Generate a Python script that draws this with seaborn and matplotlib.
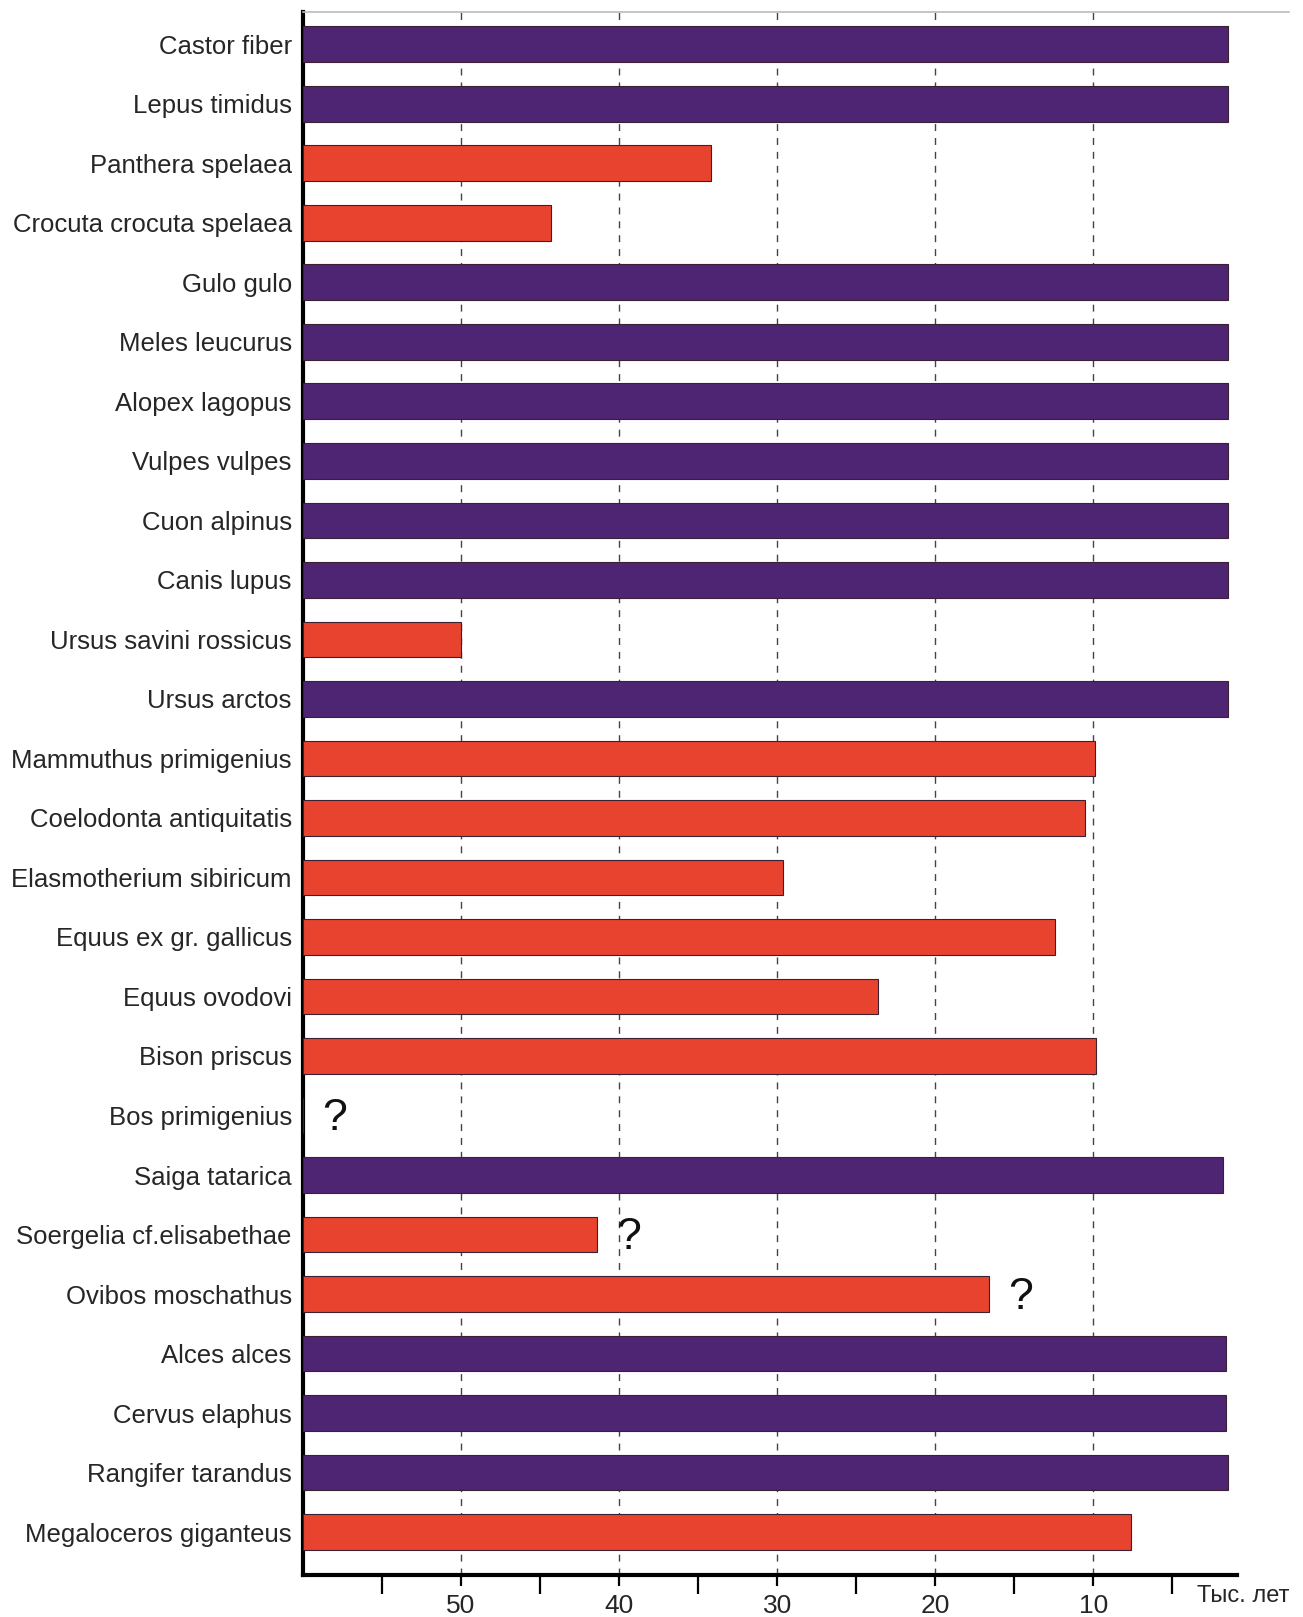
import numpy as np
import pandas as pd
import matplotlib
matplotlib.use("Agg")
import matplotlib.pyplot as plt
import seaborn as sns

# species, extinction / last-record time (thousand years ago) and status
species = [
    "Castor fiber", "Lepus timidus", "Panthera spelaea", "Crocuta crocuta spelaea",
    "Gulo gulo", "Meles leucurus", "Alopex lagopus", "Vulpes vulpes",
    "Cuon alpinus", "Canis lupus", "Ursus savini rossicus", "Ursus arctos",
    "Mammuthus primigenius", "Coelodonta antiquitatis", "Elasmotherium sibiricum",
    "Equus ex gr. gallicus", "Equus ovodovi", "Bison priscus", "Bos primigenius",
    "Saiga tatarica", "Soergelia cf.elisabethae", "Ovibos moschathus",
    "Alces alces", "Cervus elaphus", "Rangifer tarandus", "Megaloceros giganteus",
]
end_kyr = [
    1.5, 1.5, 34.2, 44.3,
    1.5, 1.5, 1.5, 1.5,
    1.5, 1.5, 50.0, 1.5,
    9.9, 10.5, 29.6,
    12.4, 23.6, 9.8, 60.0,
    1.8, 41.4, 16.6,
    1.6, 1.6, 1.5, 7.6,
]
status = [
    "extant", "extant", "extinct", "extinct",
    "extant", "extant", "extant", "extant",
    "extant", "extant", "extinct", "extant",
    "extinct", "extinct", "extinct",
    "extinct", "extinct", "extinct", "extinct",
    "extant", "extinct", "extinct",
    "extant", "extant", "extant", "extinct",
]
uncertain = ["Bos primigenius", "Soergelia cf.elisabethae", "Ovibos moschathus"]

START = 60  # left edge of the time axis, kyr
major_kyr = [50, 40, 30, 20, 10]
minor_kyr = [55, 45, 35, 25, 15, 5]

COLORS = {"extant": "#4E2573", "extinct": "#E8432F"}

df = pd.DataFrame({"species": species, "end": end_kyr, "status": status})
df["span"] = START - df["end"]

sns.set_style("white")
plt.rcParams["font.family"] = ["Liberation Sans", "DejaVu Sans"]

fig = plt.figure(figsize=(13.03, 16.17), dpi=100)
ax = fig.add_axes([0.2325, 0.026, 0.757, 0.9665])

sns.barplot(data=df, x="span", y="species", hue="status", palette=COLORS,
            dodge=False, width=0.6, orient="h", legend=False, saturation=1,
            edgecolor="#3a2030", linewidth=0.8, ax=ax, zorder=3)

# dashed reference lines at the labelled ages
for t in major_kyr:
    ax.axvline(START - t, color="#444444", linestyle=(0, (5, 5)), linewidth=1.0, zorder=1)

# question marks for uncertain records
for name in uncertain:
    row = df.index[df["species"] == name][0]
    ax.text(df.loc[row, "span"] + 2.0, row + 0.05, "?", fontsize=32, ha="center", va="center", color="#111111")

ax.set_xlim(0, 62.4)
ax.set_ylim(25.72, -0.54)
ax.set_xticks([START - t for t in major_kyr])
ax.set_xticklabels([str(t) for t in major_kyr], fontsize=19)
ax.set_xticks([START - t for t in minor_kyr], minor=True)
ax.tick_params(axis="x", which="major", bottom=True, direction="out", length=8, width=1.6,
               color="black", pad=6)
ax.tick_params(axis="x", which="minor", bottom=True, direction="out", length=14, width=1.6,
               color="black")
ax.tick_params(axis="y", length=0, pad=8, labelsize=18.5)
ax.set_xlabel("")
ax.set_ylabel("")

for side in ["left", "bottom"]:
    ax.spines[side].set_color("black")
    ax.spines[side].set_linewidth(3)
ax.spines["bottom"].set_bounds(0, 59.1)
ax.spines["top"].set_color("#bbbbbb")
ax.spines["top"].set_linewidth(1.2)
ax.spines["right"].set_visible(False)

ax.text(1.0, -0.0135, "Тыс. лет", transform=ax.transAxes, fontsize=17,
        ha="right", va="center")

fig.savefig("out.png", dpi=100)
